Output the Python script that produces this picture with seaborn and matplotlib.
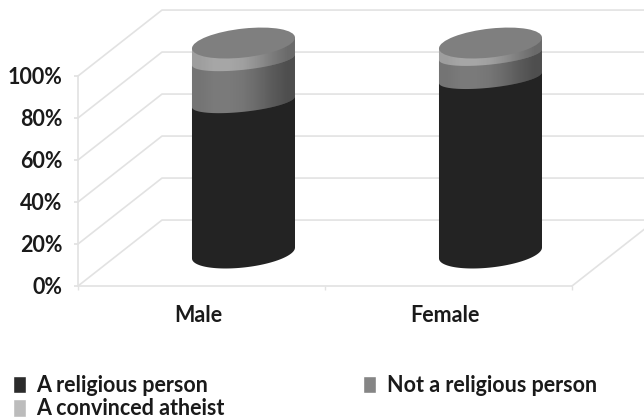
import numpy as np
import pandas as pd
import seaborn as sns
import matplotlib.pyplot as plt
from matplotlib.patches import Ellipse, Patch, Polygon
from matplotlib.transforms import Affine2D

groups = ['Male', 'Female']
religious = [72, 83.5]
not_religious = [20, 11]
atheist = [8, 5.5]
series_names = ['A religious person', 'Not a religious person', 'A convinced atheist']
y_ticks = [0, 20, 40, 60, 80, 100]

sns.set_theme(style='white')
plt.rcParams['font.family'] = ['Lato', 'DejaVu Sans']

W, H = 644, 420
fig = plt.figure(figsize=(W / 100, H / 100), dpi=100)
ax = fig.add_axes([78 / W, (H - 286) / H, (572 - 78) / W, (286 - 76) / H])
ax.set_xlim(-0.5, 1.5)
ax.set_ylim(0, 100)

# depth of the fake 3D box, in data units
depth_x = 0.34
depth_y = 31.4
grid_col = '#e2e2e2'

for v in y_ticks:
    ax.plot([-0.5, -0.5 + depth_x, 1.5 + depth_x], [v, v + depth_y, v + depth_y],
            color=grid_col, lw=1.2, clip_on=False, zorder=1)
ax.plot([1.5, 1.5 + depth_x], [0, depth_y], color=grid_col, lw=1.2, clip_on=False, zorder=1)

df = pd.DataFrame({'group': groups, 'religious': religious,
                   'not_religious': not_religious, 'atheist': atheist})

bar_w = 0.417
body_cols = ['#232323', '#7a7a7a', '#a6a6a6']
legend_cols = ['#2b2b2b', '#858585', '#bcbcbc']
top_col = '#7f7f7f'
cap_h = 13.8
inner_cap_h = 9.5


def cyl_transform(i):
    # shear in pixels around the bar centre, then push back to mid depth
    cx, _ = ax.transData.transform((i, 0))
    k = 0.105
    dx = depth_x / 2 * (494 / 2)
    dy = depth_y / 2 * 2.1
    shear = Affine2D.from_values(1, k, 0, 1, 0, -k * cx)
    return ax.transData + shear + Affine2D().translate(dx, dy)


def outline(i, v0, v1, h):
    # one body segment: straight top edge, curved lower edge
    t = np.linspace(np.pi, 2 * np.pi, 60)
    arc = np.column_stack([i + bar_w / 2 * np.cos(t), v0 + h / 2 * np.sin(t)])
    return np.vstack([[[i - bar_w / 2, v1]], arc, [[i + bar_w / 2, v1]]])


def shade(poly, i, v0, v1):
    # darker towards the right hand side of the cylinder
    ramp = np.array([0.05, 0.0, 0.0, 0.04, 0.14, 0.26, 0.36])
    img = np.zeros((1, len(ramp), 4))
    img[..., 3] = ramp
    im = ax.imshow(img, extent=[i - bar_w / 2, i + bar_w / 2, v0, v1], aspect='auto',
                   interpolation='bilinear', transform=cyl_transform(i), zorder=poly.get_zorder())
    im.set_clip_box(fig.bbox)
    im.set_clip_path(poly)


bottoms = np.zeros(len(df))
columns = ['religious', 'not_religious', 'atheist']
for s, col in enumerate(columns):
    before = len(ax.patches)
    sns.barplot(data=df, x='group', y=col, color=body_cols[s], saturation=1,
                width=bar_w, ax=ax, linewidth=0, errorbar=None)
    bars = list(ax.patches[before:])
    h = cap_h if s == 0 else inner_cap_h
    for i, bar in enumerate(bars):
        z = 3 + s
        top = bottoms[i] + df[col][i]
        bar.set_y(bottoms[i])
        bar.set_transform(cyl_transform(i))
        bar.set_zorder(z)
        bar.set_clip_on(False)
        poly = Polygon(outline(i, bottoms[i], top, h), closed=True, facecolor=body_cols[s],
                       edgecolor='none', transform=cyl_transform(i), zorder=z, clip_on=False)
        ax.add_patch(poly)
        if s > 0:
            shade(poly, i, bottoms[i] - h, top)
    bottoms = bottoms + df[col].values

for i in range(len(df)):
    ax.add_patch(Ellipse((i, bottoms[i]), bar_w, cap_h, facecolor=top_col, edgecolor='none',
                         transform=cyl_transform(i), zorder=7, clip_on=False))

ax.set_xlim(-0.5, 1.5)
ax.set_ylim(0, 100)
ax.set_yticks(y_ticks)
ax.set_yticklabels([f'{v}%' for v in y_ticks], fontsize=15.5, fontweight='bold', color='#1a1a1a')
ax.set_xticks(range(len(groups)))
ax.set_xticklabels(groups, fontsize=15.5, fontweight='bold', color='#1a1a1a')
ax.set_xticks([-0.5, 0.5, 1.5], minor=True)
ax.set_xlabel('')
ax.set_ylabel('')
ax.tick_params(axis='x', which='major', length=0, pad=14)
ax.tick_params(axis='x', which='minor', length=3, color=grid_col, bottom=True)
ax.tick_params(axis='y', length=3, color=grid_col, pad=8, left=True)
for lab in ax.get_xticklabels():
    lab.set_transform(lab.get_transform() + Affine2D().translate(-3.5, 0))
ax.patch.set_alpha(0)
for side in ['top', 'right']:
    ax.spines[side].set_visible(False)
for side in ['left', 'bottom']:
    ax.spines[side].set_color(grid_col)
    ax.spines[side].set_linewidth(1.2)

handles = [Patch(facecolor=legend_cols[0], label=series_names[0]),
           Patch(facecolor=legend_cols[2], label=series_names[2]),
           Patch(facecolor=legend_cols[1], label=series_names[1])]
fig.legend(handles=handles, ncol=2, loc='lower left', bbox_to_anchor=(4 / W, -8 / H), frameon=False,
           prop={'size': 15.5, 'weight': 'bold'}, handlelength=0.62, handleheight=0.85,
           handletextpad=0.49, columnspacing=6.4, labelspacing=0.12, labelcolor='#1a1a1a',
           borderaxespad=0.2, borderpad=0.2)

fig.savefig('out.png', dpi=100, facecolor='white')
